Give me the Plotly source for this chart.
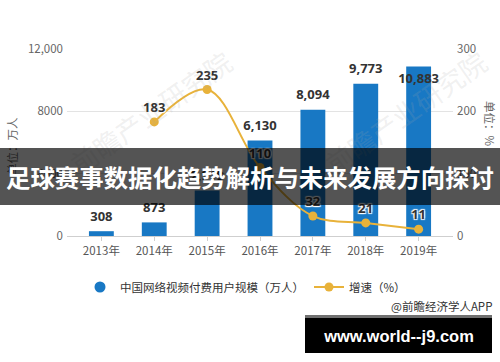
import plotly.graph_objects as go

years = ["2013年", "2014年", "2015年", "2016年", "2017年", "2018年", "2019年"]
users = [308, 873, 2919, 6130, 8094, 9773, 10883]
user_labels = ["308", "873", "2,919", "6,130", "8,094", "9,773", "10,883"]
growth_years = ["2014年", "2015年", "2016年", "2017年", "2018年", "2019年"]
growth = [183, 235, 110, 32, 21, 11]
left_ticks = [0, 4000, 8000, 12000]
left_ticktext = ["0", "4000", "8000", "12,000"]
right_ticks = [0, 100, 200, 300]

BLUE = "#1878c4"
GOLD = "#e8b23a"
FONT = "Noto Sans CJK SC"

# plot-area pixel geometry (used for paper coordinate conversion)
L, R, T, B = 67, 453, 49, 236
W, H = R - L, B - T
def px(x):
    return (x - L) / W
def py(y):
    return (B - y) / H

fig = go.Figure()

fig.add_trace(go.Bar(
    x=years, y=users, marker=dict(color=BLUE, line=dict(width=0)),
    width=0.47, showlegend=False, hoverinfo="skip"))

# legend proxy for bar series (circle symbol)
fig.add_trace(go.Scatter(
    x=[years[0]], y=[None], mode="markers", name="中国网络视频付费用户规模（万人）",
    marker=dict(color=BLUE, size=11, symbol="circle"), showlegend=True, legendrank=1,
    hoverinfo="skip"))

# bar value labels
positions = ["top center"] * len(users)
positions[-1] = "bottom center"
fig.add_trace(go.Scatter(
    x=years, y=users, mode="markers+text", text=user_labels,
    textposition=positions,
    marker=dict(size=10, color="rgba(0,0,0,0)"),
    textfont=dict(family="Noto Sans", size=13, color="#333", weight="bold"),
    showlegend=False, hoverinfo="skip", cliponaxis=False))

fig.add_trace(go.Scatter(
    x=growth_years, y=growth, yaxis="y2", mode="lines+markers+text",
    name="增速（%）", text=[str(v) for v in growth], textposition="top center",
    line=dict(color=GOLD, width=2, shape="spline", smoothing=1.0),
    marker=dict(color=GOLD, size=9),
    textfont=dict(family="Noto Sans", size=13, color="#333", weight="bold",
                  shadow="1px 1px 1px #fff, -1px -1px 1px #fff, 1px -1px 1px #fff, -1px 1px 1px #fff"),
    legendrank=2, cliponaxis=False))

def ann(x, y, text, **kw):
    d = dict(x=px(x), y=py(y), xref="paper", yref="paper", text=text,
             showarrow=False, xanchor="center", yanchor="middle")
    d.update(kw)
    return d

annotations = [
    # watermark
    ann(150, 112, "前瞻产业研究院", textangle=-35,
        font=dict(family=FONT, size=27, color="rgba(170,170,170,0.18)")),
    ann(405, 112, "前瞻产业研究院", textangle=-35,
        font=dict(family=FONT, size=27, color="rgba(170,170,170,0.18)")),
    # axis titles
    ann(12, 146, "单位：万人", textangle=-90, font=dict(family=FONT, size=11.5, color="#666")),
    ann(490, 124, "单位：%", textangle=90, font=dict(family=FONT, size=11.5, color="#666")),
    # source
    ann(494, 306, "@前瞻经济学人APP", xanchor="right",
        font=dict(family=FONT, size=11.5, color="#333")),
    # overlay band with title
    ann(250, 176.5, "足球赛事数据化趋势解析与未来发展方向探讨",
        width=500, height=57, borderpad=0, borderwidth=0, bgcolor="rgba(0,0,0,0.67)",
        font=dict(family=FONT, size=24.4, color="#fff", weight="bold")),
    # bottom black box
    ann(398.5, 335.5, "www.world--j9.com", width=187, height=35,
        borderpad=0, borderwidth=0, bgcolor="#000",
        font=dict(family="Liberation Sans", size=16.5, color="#fff", weight="bold")),
]

shapes = [
    dict(type="rect", xref="paper", yref="paper", x0=px(305), x1=px(492),
         y0=py(318), y1=py(315), fillcolor="#707070", line=dict(width=0), layer="above"),
]

fig.update_layout(
    width=500, height=362,
    margin=dict(l=L, r=500 - R, t=T, b=362 - B, autoexpand=False),
    paper_bgcolor="#fff", plot_bgcolor="#fff",
    font=dict(family=FONT, color="#555"),
    barmode="overlay",
    xaxis=dict(type="category", categoryorder="array", categoryarray=years,
               range=[-0.65, 6.65], showline=True, linecolor="#cfcfcf", linewidth=1,
               ticks="outside", ticklen=4, tickcolor="#cfcfcf", showgrid=False,
               tickfont=dict(family=FONT, size=11.5, color="#555"), fixedrange=True),
    yaxis=dict(range=[0, 12000], tickvals=left_ticks, ticktext=left_ticktext,
               showgrid=True, gridcolor="#e3e3e3", zeroline=False, showline=False,
               tickfont=dict(family=FONT, size=11.5, color="#666"), ticklabelstandoff=3),
    yaxis2=dict(range=[0, 300], tickvals=right_ticks, overlaying="y", side="right",
                showgrid=False, zeroline=False, showline=False,
                tickfont=dict(family=FONT, size=11.5, color="#666"), ticklabelstandoff=3),
    legend=dict(orientation="h", xref="container", yref="container",
                x=80 / 500, y=1 - 287 / 362, xanchor="left", yanchor="middle",
                font=dict(family=FONT, size=11.5, color="#333"), itemwidth=30,
                bgcolor="rgba(0,0,0,0)"),
    annotations=annotations,
    shapes=shapes,
    showlegend=True,
)

fig.write_html("out.html", config={"displayModeBar": False},
               post_script="document.body.style.margin='0';document.body.style.padding='0';")
